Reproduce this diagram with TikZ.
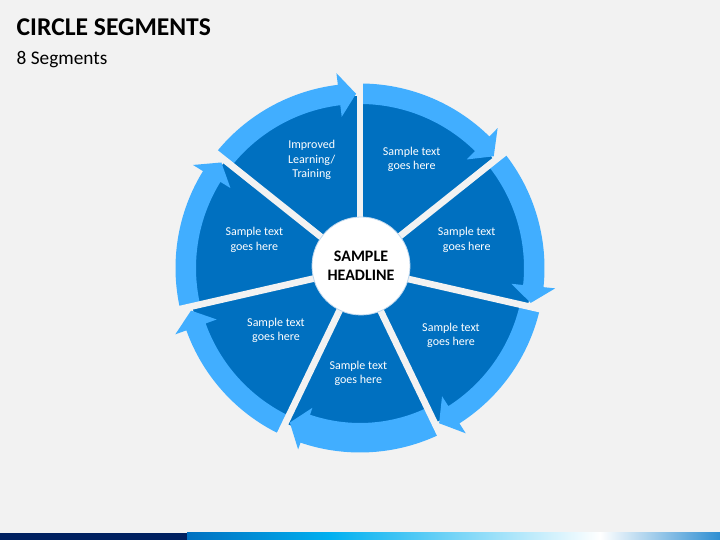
\documentclass[tikz,border=0pt]{standalone}
\usepackage{fontspec}
\setmainfont{Carlito}
\definecolor{bg}{HTML}{F2F2F2}
\definecolor{darkseg}{HTML}{0070C0}
\definecolor{lightarc}{HTML}{41AEFF}
\definecolor{navy}{HTML}{002060}
\definecolor{barA}{HTML}{0070C0}
\definecolor{barB}{HTML}{00B0F0}
\definecolor{barC}{HTML}{2E8ED2}
\definecolor{circedge}{HTML}{BDD7EE}
\begin{document}
\begin{tikzpicture}[x=1pt,y=1pt,
  segtext/.style={text=white, font=\fontsize{12}{14.5}\selectfont, align=center, inner sep=0pt},
  gapline/.style={draw=bg, line width=6.7pt},
  arcfill/.style={fill=lightarc}]
\fill[bg] (0,0) rectangle (720,540);
\useasboundingbox (0,0) rectangle (720,540);
% title
\node[anchor=base west, inner sep=0pt, font=\fontsize{25.6}{30}\selectfont\bfseries] (title) at (16.5,504) {CIRCLE SEGMENTS};
\node[anchor=base west, inner sep=0pt, font=\fontsize{19.3}{23}\selectfont] (subtitle) at (16.5,475) {8 Segments};
% ring
\begin{scope}[shift={(360,272)}]
  \fill[darkseg] (0,0) circle (172pt);
  \foreach \s/\ri in {141.43/164, 90/164, 38.57/164, -12.86/164, -64.29/155, -115.71/164, -167.14/164} {
    \pgfmathsetmacro\e{\s-51.43}
    \pgfmathsetmacro\tp{\e+1.3}
    \pgfmathsetmacro\bb{\tp+5.6}
    \pgfmathsetmacro\rmid{(\ri+184.5)/2}
    \pgfmathsetmacro\hout{\rmid+22}
    \pgfmathsetmacro\hin{\rmid-22}
    \fill[arcfill] (\s:184.5pt) arc[start angle=\s, end angle=\bb, radius=184.5pt]
      -- (\bb:\hout pt) -- (\tp:\rmid pt) -- (\bb:\hin pt) -- (\bb:\ri pt)
      arc[start angle=\bb, end angle=\s, radius=\ri pt] -- cycle;
  }
  \foreach \g in {141.43, 90, 38.57, -12.86, -64.29, -115.71, -167.14} {
    \draw[gapline] (0,0) -- (\g:191pt);
  }
  \node[circle, fill=white, draw=circedge, line width=0.8pt, minimum size=98pt, inner sep=0pt,
        align=center, font=\fontsize{16}{19.3}\selectfont\bfseries] (head) at (1,2) {SAMPLE\\HEADLINE};
\end{scope}
% segment texts
\node[segtext] (s1) at (311.7,380) {Improved\\Learning/\\Training};
\node[segtext] (s2) at (411.7,380.5) {Sample text\\goes here};
\node[segtext] (s3) at (466.7,300) {Sample text\\goes here};
\node[segtext] (s4) at (451,204.5) {Sample text\\goes here};
\node[segtext] (s5) at (358.3,166.7) {Sample text\\goes here};
\node[segtext] (s6) at (276,209.5) {Sample text\\goes here};
\node[segtext] (s7) at (254.3,300) {Sample text\\goes here};
% bottom bar
\fill[navy] (0,0) rectangle (187,7);
\shade[left color=barA, right color=barB] (187,0) rectangle (330,7);
\shade[left color=barB, right color=white] (330,0) rectangle (600,7);
\shade[left color=white, right color=barC] (600,0) rectangle (720,7);
\end{tikzpicture}
\end{document}
